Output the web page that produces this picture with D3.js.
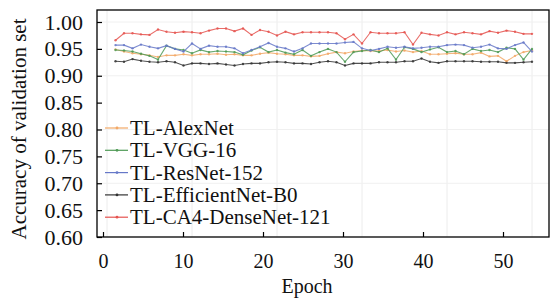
<!DOCTYPE html>
<html>
<head>
<meta charset="utf-8">
<script src="https://cdn.jsdelivr.net/npm/d3@7"></script>
<style>
  body { margin: 0; background: #fff; }
  svg { display: block; }
  text { font-family: "Liberation Serif", "Times New Roman", serif; fill: #111; }
</style>
</head>
<body>
<svg id="chart" width="550" height="298"></svg>
<script>
const epochs = d3.range(1, 51);

const alexnet = [0.949, 0.945, 0.942, 0.940, 0.938, 0.935, 0.938, 0.938, 0.940, 0.938,
    0.940, 0.940, 0.941, 0.939, 0.940, 0.938, 0.938, 0.941, 0.943, 0.941,
    0.940, 0.938, 0.938, 0.936, 0.937, 0.941, 0.944, 0.942, 0.945, 0.947,
    0.946, 0.946, 0.948, 0.945, 0.947, 0.944, 0.946, 0.940, 0.940, 0.941,
    0.942, 0.940, 0.940, 0.943, 0.936, 0.937, 0.927, 0.937, 0.944, 0.947];
const vgg16 = [0.948, 0.947, 0.945, 0.941, 0.937, 0.930, 0.956, 0.950, 0.948, 0.942,
    0.948, 0.944, 0.946, 0.945, 0.944, 0.939, 0.947, 0.953, 0.944, 0.948,
    0.943, 0.940, 0.948, 0.937, 0.944, 0.950, 0.944, 0.926, 0.944, 0.946,
    0.948, 0.944, 0.951, 0.930, 0.953, 0.950, 0.944, 0.949, 0.953, 0.944,
    0.946, 0.940, 0.950, 0.946, 0.948, 0.944, 0.952, 0.950, 0.930, 0.950];
const resnet152 = [0.957, 0.957, 0.951, 0.958, 0.954, 0.951, 0.956, 0.950, 0.945, 0.960,
    0.950, 0.956, 0.954, 0.954, 0.951, 0.942, 0.948, 0.954, 0.961, 0.954,
    0.951, 0.945, 0.951, 0.960, 0.960, 0.960, 0.960, 0.962, 0.963, 0.951,
    0.947, 0.950, 0.954, 0.952, 0.954, 0.951, 0.952, 0.954, 0.954, 0.957,
    0.958, 0.957, 0.952, 0.954, 0.958, 0.951, 0.950, 0.957, 0.962, 0.945];
const efficientB0 = [0.927, 0.926, 0.931, 0.928, 0.926, 0.925, 0.927, 0.925, 0.919, 0.923,
    0.923, 0.922, 0.923, 0.921, 0.919, 0.922, 0.923, 0.923, 0.925, 0.926,
    0.925, 0.923, 0.923, 0.922, 0.925, 0.927, 0.925, 0.919, 0.923, 0.923,
    0.923, 0.925, 0.925, 0.925, 0.927, 0.927, 0.932, 0.926, 0.924, 0.927,
    0.927, 0.927, 0.927, 0.926, 0.926, 0.926, 0.924, 0.924, 0.925, 0.926];
const ca4dense121 = [0.966, 0.979, 0.979, 0.977, 0.976, 0.986, 0.982, 0.980, 0.982, 0.981,
    0.979, 0.984, 0.988, 0.988, 0.983, 0.988, 0.976, 0.985, 0.982, 0.975,
    0.982, 0.977, 0.981, 0.981, 0.981, 0.981, 0.979, 0.968, 0.977, 0.960,
    0.981, 0.979, 0.979, 0.979, 0.981, 0.958, 0.980, 0.977, 0.975, 0.981,
    0.977, 0.981, 0.979, 0.977, 0.983, 0.980, 0.984, 0.982, 0.978, 0.978];

const seriesNames = ["TL-AlexNet", "TL-VGG-16", "TL-ResNet-152", "TL-EfficientNet-B0", "TL-CA4-DenseNet-121"];
const seriesValues = [alexnet, vgg16, resnet152, efficientB0, ca4dense121];
const seriesColors = ["#f2a866", "#4f9a55", "#6678c8", "#333333", "#e5534f"];

const xTicks = [0, 10, 20, 30, 40, 50];
const yTicks = d3.range(0.60, 1.001, 0.05);

const svg = d3.select('#chart');

// plot frame
const frameLeft = 97, frameRight = 549, frameTop = 10, frameBottom = 237;

// printed axis and the curves sit on slightly different epoch scales in the source
const xAxisScale = d3.scaleLinear().domain([0, 50]).range([103, 503]);
const xData = d3.scaleLinear().domain([0, 50]).range([107, 532]);
const y = d3.scaleLinear().domain([0.60, 1.00]).range([frameBottom, 22]);

// faint grid
svg.append('g')
    .selectAll('line')
    .data(xTicks)
    .enter().append('line')
    .attr('x1', d => xData(d)).attr('x2', d => xData(d))
    .attr('y1', frameTop).attr('y2', frameBottom)
    .attr('stroke', '#ececec').attr('stroke-width', 1);
svg.append('g')
    .selectAll('line')
    .data([1.0, 0.9, 0.8, 0.7])
    .enter().append('line')
    .attr('x1', frameLeft).attr('x2', frameRight)
    .attr('y1', d => y(d)).attr('y2', d => y(d))
    .attr('stroke', '#f0f0f0').attr('stroke-width', 1);

// lines
const line = d3.line()
    .x((d, i) => xData(epochs[i]))
    .y(d => y(d));

seriesValues.forEach((vals, k) => {
    const g = svg.append('g');
    g.append('path')
        .datum(vals)
        .attr('d', line)
        .attr('fill', 'none')
        .attr('stroke', seriesColors[k])
        .attr('stroke-width', 1.1)
        .attr('opacity', 0.85);
    g.selectAll('circle')
        .data(vals)
        .enter().append('circle')
        .attr('cx', (d, i) => xData(epochs[i]))
        .attr('cy', d => y(d))
        .attr('r', 1.2)
        .attr('fill', seriesColors[k])
        .attr('opacity', 0.85);
});

// frame
svg.append('rect')
    .attr('x', frameLeft).attr('y', frameTop)
    .attr('width', frameRight - frameLeft).attr('height', frameBottom - frameTop)
    .attr('fill', 'none').attr('stroke', '#000').attr('stroke-width', 1.3);

// axes with inward ticks
const xAxis = d3.axisBottom(xAxisScale).tickValues(xTicks).tickSize(-5).tickPadding(17)
    .tickFormat(d3.format('d'));
const gx = svg.append('g').attr('transform', `translate(0,${frameBottom})`).call(xAxis);
gx.select('.domain').remove();
gx.selectAll('line').attr('stroke', '#000').attr('stroke-width', 1.2);
gx.selectAll('text').style('font-size', '20px').attr('fill', '#111');

const yAxis = d3.axisLeft(y).tickValues(yTicks).tickSize(-5).tickPadding(14)
    .tickFormat(d3.format('.2f'));
const gy = svg.append('g').attr('transform', `translate(${frameLeft},0)`).call(yAxis);
gy.select('.domain').remove();
gy.selectAll('line').attr('stroke', '#000').attr('stroke-width', 1.2);
gy.selectAll('text').style('font-size', '22px').attr('fill', '#111');

// axis titles
svg.append('text')
    .attr('x', 307).attr('y', 293)
    .attr('text-anchor', 'middle')
    .style('font-size', '20px')
    .text('Epoch');
svg.append('text')
    .attr('transform', 'translate(26,129) rotate(-90)')
    .attr('text-anchor', 'middle')
    .style('font-size', '21px')
    .text('Accuracy of validation set');

// legend
const legend = svg.append('g').attr('transform', 'translate(105,128)');
seriesNames.forEach((name, k) => {
    const row = legend.append('g').attr('transform', `translate(0,${k * 22.3})`);
    row.append('line')
        .attr('x1', 0).attr('x2', 23).attr('y1', 0).attr('y2', 0)
        .attr('stroke', seriesColors[k]).attr('stroke-width', 1.2);
    row.append('circle').attr('cx', 12).attr('cy', 0).attr('r', 1.4).attr('fill', seriesColors[k]);
    row.append('text')
        .attr('x', 25).attr('y', 7)
        .style('font-size', '21px')
        .attr('fill', '#222')
        .text(name);
});
</script>
</body>
</html>
